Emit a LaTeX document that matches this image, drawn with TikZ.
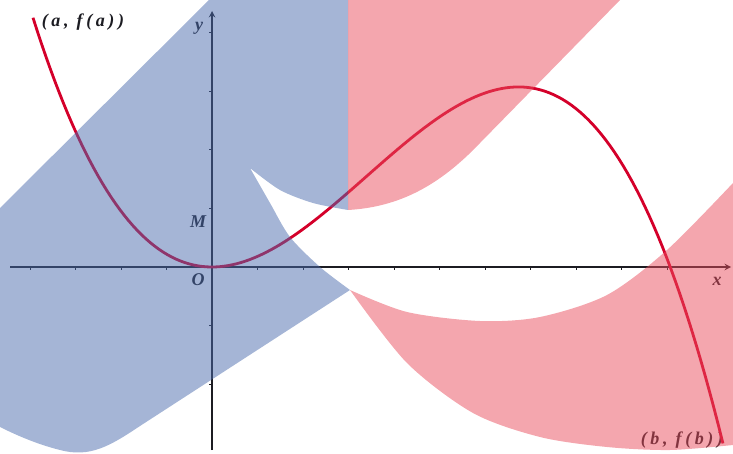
\documentclass[tikz,border=0pt]{standalone}
\usepackage{fontspec}
\setmainfont{Liberation Serif}
\newfontfamily\spacedfont[LetterSpace=20]{Liberation Serif}
\definecolor{curvered}{RGB}{212,0,42}
\definecolor{axisdark}{RGB}{28,28,34}
\definecolor{washblue}{RGB}{75,107,173}
\definecolor{washpink}{RGB}{233,77,93}
\tikzset{
  axis/.style={line width=1.8pt, axisdark},
  graph/.style={line width=2.8pt, curvered},
  lbl/.style={font=\fontsize{18}{18}\selectfont\bfseries\itshape, text=axisdark, inner sep=0pt},
  ptlbl/.style={font=\fontsize{18}{18}\spacedfont\bfseries\itshape, text=axisdark, inner sep=0pt},
  bluewash/.style={fill=washblue, fill opacity=0.5},
  pinkwash/.style={fill=washpink, fill opacity=0.5}
}
\begin{document}
\begin{tikzpicture}[>=stealth, x=1pt, y=-1pt]
  \useasboundingbox (0,0) rectangle (733,454);

  % Assen
  \coordinate (O) at (212,267);
  \draw[axis, ->] (10,267) -- (731,267);
  \draw[axis, ->] (212,450) -- (212,11);
  \foreach \k in {-4,...,10}
    \draw[axis, line width=1pt] ({212+45.5*\k},267) -- ({212+45.5*\k},270);
  \foreach \k in {-2,-1,1,2,3,4}
    \draw[axis, line width=1pt] (212,{267-58.5*\k}) -- (209,{267-58.5*\k});

  % Labels
  \node[lbl] (ylbl) at (199,28) {y};
  \node[lbl] (Mlbl) at (198,222) {M};
  \node[lbl] (Olbl) at (198,280) {O};
  \node[lbl] (xlbl) at (717,281) {x};
  \node[ptlbl] (Alab) at (83,22) {(a, f(a))};
  \node[ptlbl] (Blab) at (682,440) {(b, f(b))};

  % Grafiek
  \draw[graph] plot[domain=-3.934:11.23, samples=160, variable=\u]
    ({212+45.5*\u}, {267-\u*\u*(11.73-1.127*\u-0.003753*\u*\u)});

  % Blauw vlak
  \fill[bluewash] (209,0) -- (348,0) -- (348,210)
    -- plot[smooth] coordinates {(348,210) (313,203) (280,190) (250,168)}
    -- plot[smooth] coordinates {(250,168) (270,203) (290,237) (320,267) (350,290)}
    -- (140,426) .. controls (110,446) and (90,458) .. (60,450)
    .. controls (40,445) and (20,437) .. (0,427) -- (0,208) -- cycle;

  % Roze vlak boven
  \fill[pinkwash] (348,0) -- (620,0) -- (480,143)
    .. controls (440,185) and (400,207) .. (348,210) -- cycle;

  % Roze vlak onder
  \fill[pinkwash]
    plot[smooth] coordinates {(350,290) (407,312) (480,321) (540,317) (607,295) (667,250) (733,183)}
    -- (733,445)
    -- plot[smooth] coordinates {(733,445) (670,450) (607,447) (540,437) (473,413) (407,363) (350,290)}
    -- cycle;

\end{tikzpicture}
\end{document}
